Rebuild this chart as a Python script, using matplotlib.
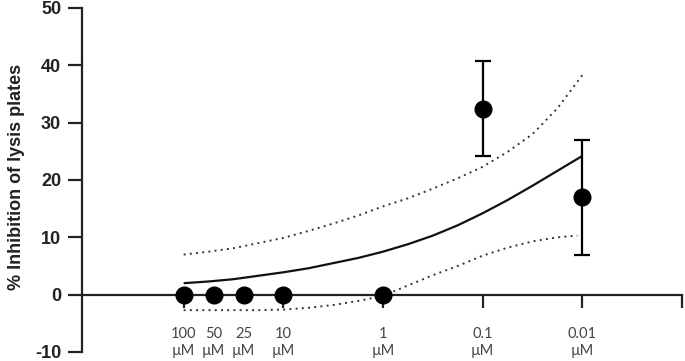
import numpy as np
import matplotlib
matplotlib.use("Agg")
import matplotlib.pyplot as plt

plt.rcParams["axes.unicode_minus"] = False

# concentrations (uM) and measured % inhibition
conc = [100, 50, 25, 10, 1, 0.1, 0.01]
conc_labels = ["100\nµM", "50\nµM", "25\nµM", "10\nµM", "1\nµM", "0.1\nµM", "0.01\nµM"]
inhibition = [0, 0, 0, 0, 0, 32.4, 17.0]
sem = [0, 0, 0, 0, 0, 8.3, 10.0]

# fitted curve and 95% band, x = -log10(conc)
fit_x = [-2, -1.75, -1.5, -1.25, -1, -0.75, -0.5, -0.25, 0,
         0.25, 0.5, 0.75, 1, 1.25, 1.5, 1.75, 2]
fit_mid = [2.0, 2.3, 2.7, 3.3, 3.9, 4.6, 5.5, 6.4, 7.5,
           8.8, 10.3, 12.1, 14.2, 16.5, 19.0, 21.6, 24.2]
fit_upper = [7.0, 7.5, 8.1, 9.0, 9.9, 11.1, 12.4, 13.8, 15.4,
             16.8, 18.5, 20.3, 22.3, 24.9, 28.0, 32.5, 38.3]
lower_x = [-2, -1.75, -1.5, -1.25, -1, -0.75, -0.5, -0.25, 0,
           0.25, 0.5, 0.75, 1, 1.25, 1.5, 1.75, 1.95]
fit_lower = [-2.7, -2.7, -2.7, -2.7, -2.6, -2.3, -1.8, -1.1, -0.2,
             1.6, 3.4, 5.0, 6.8, 8.2, 9.3, 10.0, 10.3]

yticks = [-10, 0, 10, 20, 30, 40, 50]

x = -np.log10(conc)

fig = plt.figure(figsize=(6.85, 3.61), dpi=100)
ax = fig.add_axes([82 / 685, 9 / 361, 600 / 685, 344 / 361])

ax.plot(fit_x, fit_mid, color="#111111", lw=1.6, solid_capstyle="butt")
ax.plot(fit_x, fit_upper, color="#333333", lw=1.4, ls=(0, (1, 2.2)))
ax.plot(lower_x, fit_lower, color="#333333", lw=1.4, ls=(0, (1, 2.2)))

ax.errorbar(x, inhibition, yerr=sem, fmt="o", color="black", ms=12,
            elinewidth=1.6, capsize=5.8, capthick=1.6, zorder=5)

ax.set_xlim(-3.02, 3.0)
ax.set_ylim(-10, 50)

for s in ["top", "right"]:
    ax.spines[s].set_visible(False)
ax.spines["bottom"].set_position(("data", 0))
ax.spines["bottom"].set_linewidth(1.6)
ax.spines["left"].set_linewidth(1.6)
ax.spines["left"].set_color("#222222")
ax.spines["bottom"].set_color("#222222")

# major ticks only at decades, 50 and 25 uM labelled without tick
major = [-2, -1, 0, 1, 2, 3]
major_labels = [conc_labels[0], conc_labels[3], conc_labels[4],
                conc_labels[5], conc_labels[6], ""]
ax.set_xticks(major)
ax.set_xticklabels(major_labels)
ax.set_xticks(x[1:3], minor=True)
ax.set_xticklabels(conc_labels[1:3], minor=True)
ax.tick_params(axis="x", which="major", direction="out", length=9.5,
               width=1.6, pad=13.5, colors="#222222", labelcolor="#444444")
ax.tick_params(axis="x", which="minor", length=0, pad=23, labelcolor="#444444")
for lab in ax.get_xticklabels(which="both"):
    lab.set_fontfamily("Lato")
    lab.set_fontsize(10.5)
    lab.set_linespacing(1.3)

ax.set_yticks(yticks)
ax.tick_params(axis="y", direction="out", length=10, width=1.6, pad=5,
               colors="#222222", labelsize=13)
for lab in ax.get_yticklabels():
    lab.set_fontfamily("Liberation Sans")
    lab.set_fontweight("bold")

ax.set_ylabel("% Inhibition of lysis plates", fontsize=13, fontweight="bold",
              fontfamily="Liberation Sans", color="#222222")
ax.yaxis.set_label_coords(-0.095, 0.51)

fig.savefig("out.png", dpi=100)
